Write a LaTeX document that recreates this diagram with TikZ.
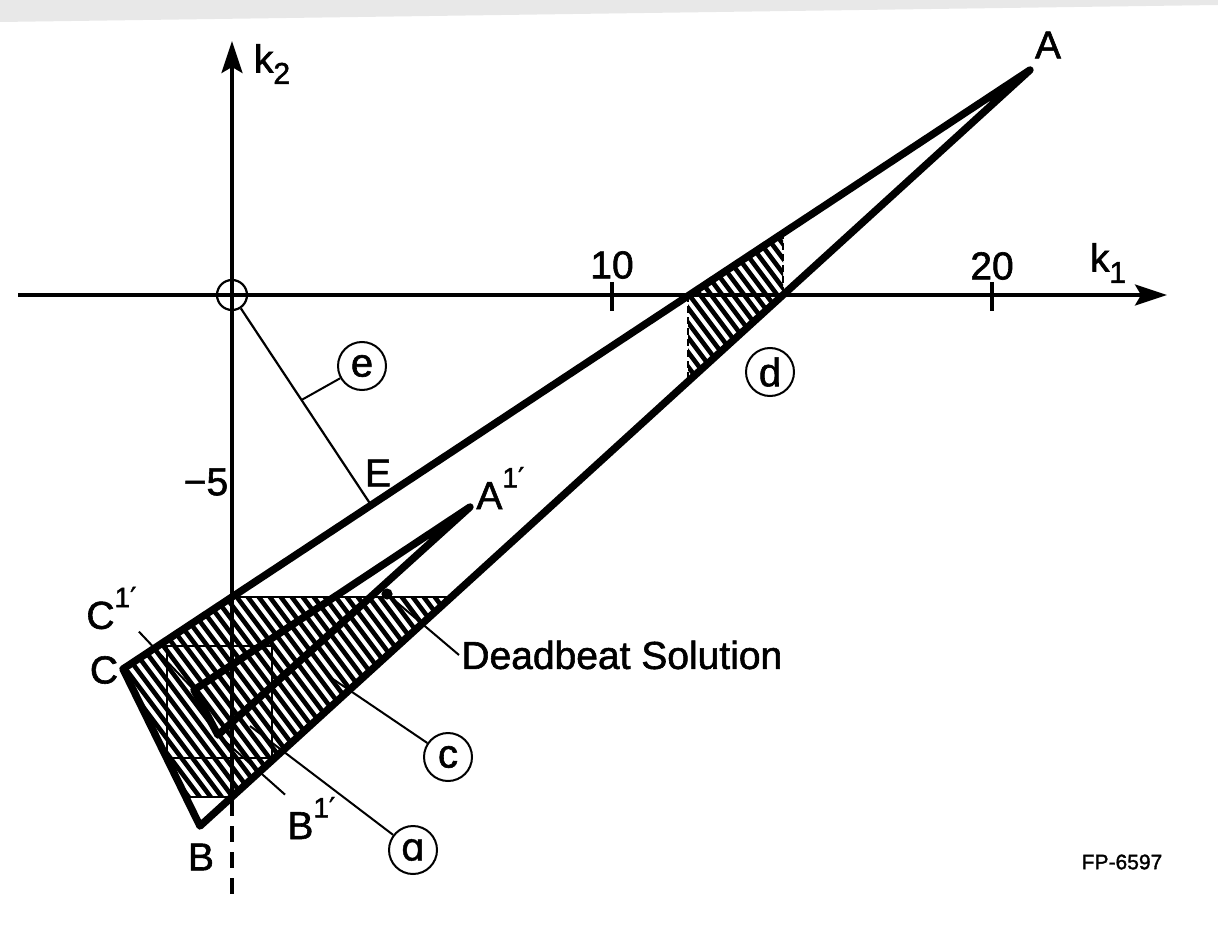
\documentclass[tikz,border=0pt]{standalone}
\usepackage{fontspec}
\setmainfont{Liberation Sans}[FakeBold=1.5]
\newfontfamily\dvs{DejaVu Sans}[FakeBold=1.2]
\usetikzlibrary{arrows.meta,calc}
\newcommand{\myprime}{{\dvs\char"2032}}
\newcommand{\supx}[1]{\raisebox{1.05ex}{\fontsize{14}{14}\selectfont #1}}
\newcommand{\subx}[1]{\raisebox{-0.55ex}{\fontsize{15}{15}\selectfont #1}}
\begin{document}
\begin{tikzpicture}[x=0.5pt,y=-0.5pt,
  heavy/.style={line width=3.7pt,line join=round,line cap=round},
  axisln/.style={line width=1.8pt},
  fine/.style={line width=1pt},
  hatchln/.style={line width=2.3pt},
  dashln/.style={line width=1.1pt,dash pattern=on 3.5pt off 2pt},
  lbl/.style={font=\fontsize{19.5}{22}\selectfont,inner sep=1pt},
  ring/.style={draw,circle,line width=1pt,minimum size=24pt,inner sep=0pt,font=\fontsize{20}{22}\selectfont},
  tip/.style={-{Stealth[length=16pt,width=10.5pt,inset=3pt]}}
]
\useasboundingbox (0,0) rectangle (1218,930);
\fill[white] (0,0) rectangle (1218,930);
\fill[gray!18] (0,0) -- (1218,0) -- (1218,5) -- (0,22) -- cycle;

% key points
\coordinate (A) at (1030,70);
\coordinate (B) at (200,826);
\coordinate (C) at (123,669);
\coordinate (A1) at (470,507);
\coordinate (B1) at (218,735);
\coordinate (C1) at (194,690);
\coordinate (E) at (371,505);
\coordinate (DB) at (387,594);
% hatch region (lower)
\coordinate (h1) at (232,597);
\coordinate (h2) at (451.5,597);
\coordinate (h3) at (232,797);
\coordinate (h4) at (185.8,797);
% hatch region d
\coordinate (d1) at (688,295);
\coordinate (d2) at (783,232);
\coordinate (d3) at (783,295);
\coordinate (d4) at (688,381.5);
% rectangle lines
\coordinate (r1) at (158,646);
\coordinate (r2) at (272,646);
\coordinate (r3) at (272,758);
\coordinate (r4) at (166.6,758);
\coordinate (r5) at (167,646);
\coordinate (r6) at (167,758);
% axes
\coordinate (k1l) at (18,295);
\coordinate (k1r) at (1167,295);
\coordinate (k2t) at (232,41);
\coordinate (k2m) at (232,800);
\coordinate (k2b) at (232,895);
\coordinate (t10a) at (612,282);
\coordinate (t10b) at (612,311);
\coordinate (t20a) at (992,282);
\coordinate (t20b) at (992,311);
% leader ends
\coordinate (aend) at (250,726);
\coordinate (cend) at (327,675);

% hatching
\begin{scope}
  \clip (h1) -- (h2) -- (h3) -- (h4) -- (C) -- cycle;
  \foreach \x in {-541,-530,...,30} \draw[hatchln] (\x,0) -- ++(750,1000);
\end{scope}
\begin{scope}
  \clip (d1) -- (d2) -- (d3) -- (d4) -- cycle;
  \foreach \x in {380,391,...,640} \draw[hatchln] (\x,0) -- ++(750,1000);
\end{scope}

% thin boundaries
\draw[fine] (h1) -- (h2);
\draw[fine] (h4) -- (h3);
\draw[fine] (r1) -- (r2) -- (r3) -- (r4);
\draw[fine] (r5) -- (r6);
\draw[dashln] (d1) -- (d4);
\draw[dashln] (d2) -- (d3);

% triangles
\draw[heavy] (A) -- (C) -- (B) -- cycle;
\draw[heavy] (A1) -- (C1) -- (B1) -- cycle;
\fill (DB) circle[radius=2.8pt];

% axes
\draw[axisln,tip] (k1l) -- (k1r);
\draw[axisln,tip] (k2m) -- (k2t);
\draw[line width=1.8pt,dash pattern=on 8pt off 5pt] (k2m) -- (k2b);
\draw[axisln] (t10a) -- (t10b);
\draw[axisln] (t20a) -- (t20b);
\node[draw,circle,line width=1.1pt,minimum size=15pt,inner sep=0pt] (orig) at (232,295) {};

% line e
\draw[fine,line width=1.1pt] (orig) -- (E);
\coordinate (emid) at ($(orig)!0.5!(E)$);

% labels
\node[lbl] (lA) at (1048,45) {A};
\node[lbl] (lk1) at (1108,263) {k\subx{1}};
\node[lbl] (lk2) at (272,64) {k\subx{2}};
\node[lbl] (l10) at (612,265) {10};
\node[lbl] (l20) at (992,266) {20};
\node[lbl] (lm5) at (206,482) {\char"2212 5};
\node[lbl] (lE) at (378,473) {E};
\node[lbl,anchor=west] (lA1) at (474,488) {A\supx{1\myprime}};
\node[lbl,anchor=west] (lC1) at (84,608) {C\supx{1\myprime}};
\node[lbl] (lC) at (104,670) {C};
\node[lbl] (lB) at (201,857) {B};
\node[lbl,anchor=west] (lB1) at (285,818) {B\supx{1\myprime}};
\node[lbl,anchor=west] (lDB) at (459,655) {Deadbeat Solution};
\node[font=\fontsize{10.5}{12}\selectfont,inner sep=0pt] (lfp) at (1122,862) {FP-6597};

% circled labels
\node[ring] (ce) at (362,366) {e};
\node[ring] (cd) at (770,372) {d};
\node[ring] (cc) at (448,757) {c};
\node[ring] (ca) at (413,850) {{\dvs\fontsize{19}{22}\selectfont ɑ}};

% leaders
\draw[fine] (ce) -- (emid);
\draw[fine] (cc) -- (cend);
\draw[fine] (ca) -- (aend);
\draw[fine] (lDB.west) -- (DB);
\draw[fine] (lC1.south east) -- (C1);
\draw[fine] (lB1.north west) -- (B1);
\end{tikzpicture}
\end{document}
